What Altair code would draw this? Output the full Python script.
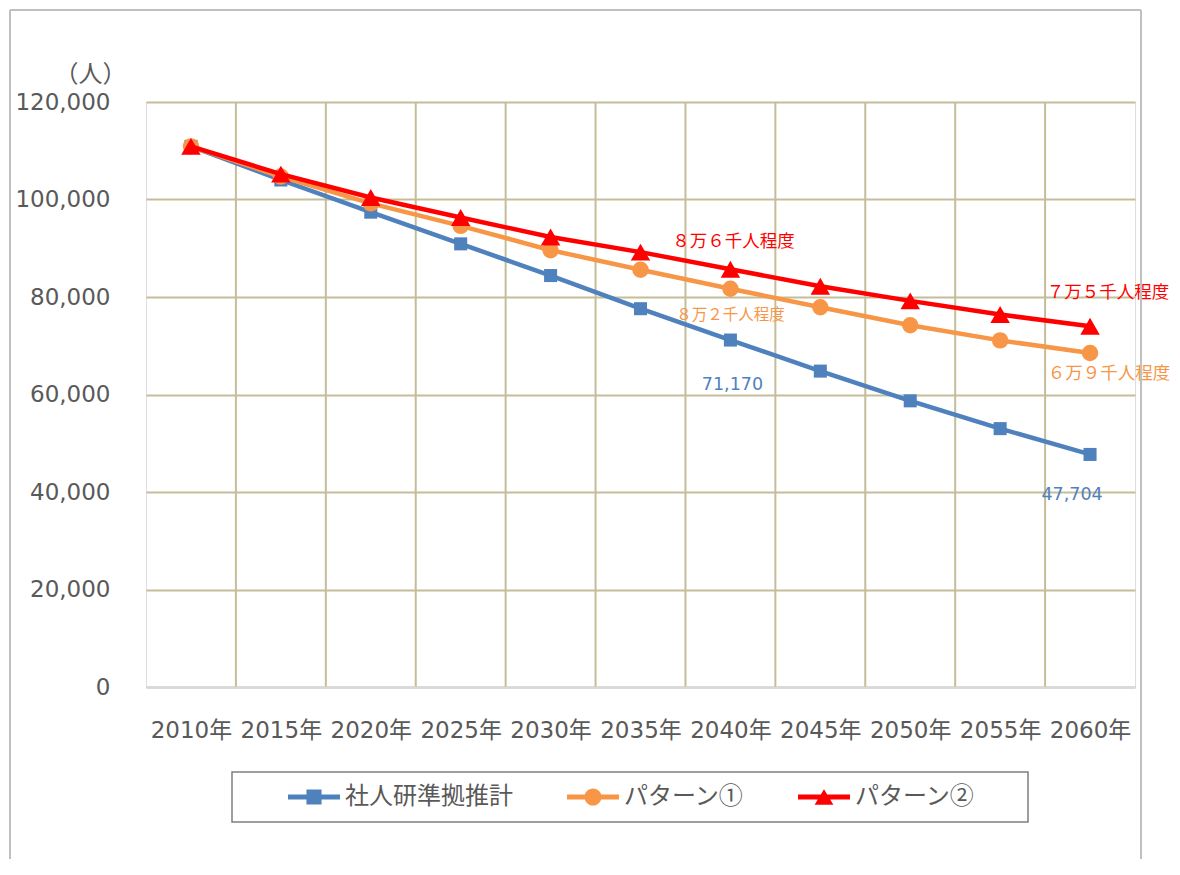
import altair as alt
import pandas as pd

years = [2010, 2015, 2020, 2025, 2030, 2035, 2040, 2045, 2050, 2055, 2060]
series_names = ["社人研準拠推計", "パターン①", "パターン②"]
blue_vals = [110900, 104000, 97400, 90900, 84400, 77600, 71170, 64800, 58700, 53000, 47704]
orange_vals = [110900, 104700, 99200, 94600, 89600, 85600, 81700, 77900, 74200, 71100, 68500]
red_vals = [110900, 105200, 100400, 96300, 92300, 89200, 85700, 82200, 79200, 76400, 74000]
y_ticks = [0, 20000, 40000, 60000, 80000, 100000, 120000]

ann_texts = ["８万６千人程度", "８万２千人程度", "71,170", "７万５千人程度", "６万９千人程度", "47,704"]
ann_series = ["パターン②", "パターン①", "社人研準拠推計", "パターン②", "パターン①", "社人研準拠推計"]
ann_years = [2040, 2040, 2040, 2060, 2060, 2060]

colors = ["#4F81BD", "#F79646", "#FF0000"]
shapes = ["square", "circle", "triangle-up"]
marker_sizes = [170, 270, 380]
legend_paths = [
    "M-1,-0.1H1V0.1H-1Z M-0.29,-0.29H0.29V0.29H-0.29Z",
    "M-1,-0.1H1V0.1H-1Z M-0.33,0A0.33,0.33 0 1,1 0.33,0A0.33,0.33 0 1,1 -0.33,0Z",
    "M-1,-0.1H1V0.1H-1Z M0,-0.3L0.36,0.3H-0.36Z",
]

rows = []
for name, vals in zip(series_names, [blue_vals, orange_vals, red_vals]):
    for yr, v in zip(years, vals):
        rows.append({"series": name, "year": yr, "value": v})
df = pd.DataFrame(rows)

bounds = pd.DataFrame({"year": [y + 2.5 for y in years[:-1]]})
one = pd.DataFrame({"a": [0]})

TEXT = "#595959"
NUMFONT = "DejaVu Sans, Noto Sans CJK JP"
JPFONT = "Noto Sans CJK JP"

x_enc = alt.X(
    "year:Q",
    scale=alt.Scale(domain=[2007.5, 2062.5], nice=False, zero=False),
    axis=alt.Axis(
        values=years, labelExpr="datum.value + '年'", grid=False, ticks=False,
        domain=True, domainColor="#D9D9D9", domainWidth=2, zindex=1,
        title=None, labelOverlap=False, labelFlush=False, labelPadding=32,
        labelFontSize=23, labelColor=TEXT, labelFont=NUMFONT,
    ),
)
y_enc = alt.Y(
    "value:Q",
    scale=alt.Scale(domain=[0, 120000], nice=False),
    axis=alt.Axis(
        values=y_ticks, format=",d", grid=True, gridColor="#C4BD97", gridWidth=2,
        ticks=False, domain=False, labelPadding=36, labelFontSize=23,
        labelColor=TEXT, labelFont=NUMFONT,
        title="（人）", titleAngle=0, titleX=-20, titleY=-28, titleAlign="right",
        titleBaseline="middle", titleFontWeight="normal", titleFontSize=24,
        titleColor=TEXT, titleFont=JPFONT,
    ),
)

layers = []
layers.append(
    alt.Chart(bounds).mark_rule(color="#C4BD97", strokeWidth=2).encode(x=x_enc)
)

for name, c, shp, sz in zip(series_names, colors, shapes, marker_sizes):
    layers.append(
        alt.Chart(df).transform_filter(alt.datum.series == name)
        .mark_line(
            color=c, strokeWidth=4.5,
            point=alt.OverlayMarkDef(shape=shp, size=sz, filled=True, color=c, opacity=1, strokeWidth=0),
        )
        .encode(x=x_enc, y=y_enc)
    )

ann_style = [
    dict(color="#FF0000", fontSize=17.5, dx=3, dy=-27, font=JPFONT),
    dict(color="#F79646", fontSize=15.5, dx=0, dy=26, font=JPFONT),
    dict(color="#4F81BD", fontSize=17.5, dx=2, dy=45, font=NUMFONT),
    dict(color="#FF0000", fontSize=17.5, dx=18, dy=-33, font=JPFONT),
    dict(color="#F79646", fontSize=17.5, dx=19, dy=21, font=JPFONT),
    dict(color="#4F81BD", fontSize=17.5, dx=-18, dy=41, font=NUMFONT),
]
for t, s, yr, st in zip(ann_texts, ann_series, ann_years, ann_style):
    layers.append(
        alt.Chart(df).transform_filter((alt.datum.series == s) & (alt.datum.year == yr))
        .mark_text(text=t, align="center", baseline="middle", **st)
        .encode(x=x_enc, y=y_enc)
    )

legend_def = alt.Legend(
    orient="none", legendX=142, legendY=669, direction="horizontal", title=None,
    symbolSize=2704, symbolStrokeWidth=0, labelFontSize=24, labelFont=JPFONT,
    labelColor=TEXT, labelOffset=5, columnPadding=54, padding=0, labelLimit=400,
)
layers.append(
    alt.Chart(df).transform_filter("false")
    .mark_point(filled=True, opacity=1, size=2704, strokeWidth=0)
    .encode(
        x=x_enc, y=y_enc,
        color=alt.Color("series:N", scale=alt.Scale(domain=series_names, range=colors), legend=legend_def),
        shape=alt.Shape("series:N", scale=alt.Scale(domain=series_names, range=legend_paths), legend=legend_def),
    )
)

# legend frame
layers.append(
    alt.Chart(one).mark_rect(fill="transparent", stroke="#7F7F7F", strokeWidth=1.5)
    .encode(x=alt.value(86), x2=alt.value(882), y=alt.value(670), y2=alt.value(720))
)
# outer chart frame
layers.append(
    alt.Chart(one).mark_rule(color="#C0C0C0", strokeWidth=2)
    .encode(x=alt.value(-136), y=alt.value(-92), y2=alt.value(760))
)
layers.append(
    alt.Chart(one).mark_rule(color="#C0C0C0", strokeWidth=2)
    .encode(x=alt.value(995), y=alt.value(-92), y2=alt.value(760))
)
layers.append(
    alt.Chart(one).mark_rule(color="#C0C0C0", strokeWidth=2)
    .encode(x=alt.value(-136), x2=alt.value(995), y=alt.value(-92))
)

chart = (
    alt.layer(*layers)
    .properties(
        width=989, height=585,
        autosize=alt.AutoSizeParams(type="none"),
        padding={"left": 138, "top": 94, "right": 36, "bottom": 172},
    )
    .configure_view(stroke="#D9D9D9", strokeWidth=2, fill="#EEECE1")
    .configure(background="white")
)

chart.save("out.html", embed_options={"renderer": "svg", "actions": False})
